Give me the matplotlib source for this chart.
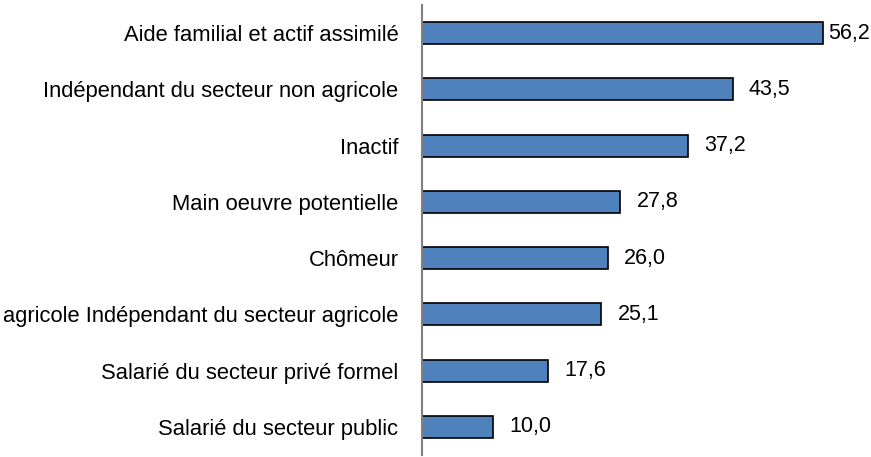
import matplotlib.pyplot as plt
import numpy as np

categories = [
    "Aide familial et actif assimilé",
    "Indépendant du secteur non agricole",
    "Inactif",
    "Main oeuvre potentielle",
    "Chômeur",
    "agricole Indépendant du secteur agricole",
    "Salarié du secteur privé formel",
    "Salarié du secteur public",
]
values = [56.2, 43.5, 37.2, 27.8, 26.0, 25.1, 17.6, 10.0]

plt.rcParams['font.family'] = ['Liberation Sans', 'DejaVu Sans']

fig = plt.figure(figsize=(8.71, 4.57), dpi=100)
ax = fig.add_axes([422 / 871, 2 / 457, 449 / 871, 450 / 457])

y = np.arange(len(categories))[::-1]
ax.barh(y, values, height=0.39, color='#4F81BD', edgecolor='black', linewidth=1.2, zorder=2)

vmax = max(values)
for yi, v in zip(y, values):
    off = 0.7 if v == vmax else 2.3
    ax.text(v + off, yi, f"{v:.1f}".replace('.', ','), va='center', ha='left', fontsize=15.5)

ax.set_xlim(0, 62.9)
ax.set_ylim(-0.5, 7.5)
ax.set_yticks(y)
ax.set_yticklabels(categories, fontsize=15.8)
ax.tick_params(axis='y', length=0, pad=17)
ax.set_xticks([])
for s in ['top', 'right', 'bottom']:
    ax.spines[s].set_visible(False)
ax.spines['left'].set_color('#808080')
ax.spines['left'].set_linewidth(1.5)

fig.savefig('out.png', dpi=100)
